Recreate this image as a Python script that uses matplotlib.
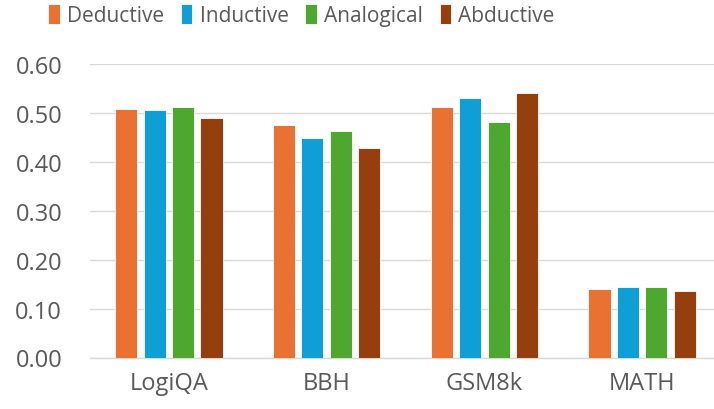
import numpy as np
import matplotlib
matplotlib.use("Agg")
import matplotlib.pyplot as plt

categories = ["LogiQA", "BBH", "GSM8k", "MATH"]
series_names = ["Deductive", "Inductive", "Analogical", "Abductive"]
deductive  = [0.509, 0.476, 0.513, 0.140]
inductive  = [0.507, 0.450, 0.532, 0.145]
analogical = [0.512, 0.463, 0.482, 0.145]
abductive  = [0.490, 0.429, 0.542, 0.137]
yticks = [0.0, 0.1, 0.2, 0.3, 0.4, 0.5, 0.6]

colors = ["#E97132", "#0F9ED5", "#4EA72E", "#953F0F"]
text_color = "#595959"

plt.rcParams["font.family"] = ["Open Sans", "DejaVu Sans"]

fig = plt.figure(figsize=(7.14, 4.10), dpi=100)
ax = fig.add_axes([90 / 714, 51.5 / 410, 631 / 714, 293.2 / 410])

x = np.arange(len(categories))
step = 0.18
width = 0.14
all_series = [deductive, inductive, analogical, abductive]
bars = []
for i, (vals, name) in enumerate(zip(all_series, series_names)):
    b = ax.bar(x + (i - 1.5) * step, vals, width=width, color=colors[i],
               edgecolor="white", linewidth=0.6, label=name, zorder=3)
    bars.append(b)

ax.set_xlim(-0.5, len(categories) - 0.5)
ax.set_ylim(0, 0.6)
ax.set_yticks(yticks)
ax.set_yticklabels([f"{v:.2f}" for v in yticks])
ax.set_xticks(x)
ax.set_xticklabels(categories)

ax.grid(axis="y", color="#D9D9D9", linewidth=1.0, zorder=0)
for s in ["top", "right", "left"]:
    ax.spines[s].set_visible(False)
ax.spines["bottom"].set_color("#D9D9D9")
ax.spines["bottom"].set_linewidth(1.0)
ax.tick_params(axis="both", length=0, labelsize=17, colors=text_color)
ax.tick_params(axis="y", pad=20)
ax.tick_params(axis="x", pad=10)

# Legend across the top, squares a bit taller than wide
leg = fig.legend(handles=bars, labels=series_names, loc="center left",
                 bbox_to_anchor=(40 / 714, 1 - 16 / 410), ncol=4, frameon=False,
                 handlelength=0.55, handleheight=1.15, handletextpad=0.35,
                 columnspacing=0.8, borderaxespad=0,
                 prop={"size": 15})
for t in leg.get_texts():
    t.set_color(text_color)

fig.savefig("out.png", dpi=100)
